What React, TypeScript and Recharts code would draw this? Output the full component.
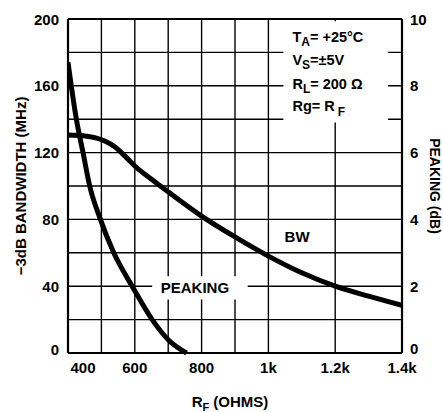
import { LineChart, Line, XAxis, YAxis, CartesianGrid, ReferenceArea, ReferenceDot, ReferenceLine } from "recharts";

// R_F axis (ohms)
const rfTicks = [400, 600, 800, 1000, 1200, 1400];
const rfGrid = [400, 500, 600, 700, 800, 900, 1000, 1100, 1200, 1300, 1400];
// left axis: -3dB bandwidth (MHz)
const bwTicks = [0, 40, 80, 120, 160, 200];
const bwGrid = [0, 20, 40, 60, 80, 100, 120, 140, 160, 180, 200];
// right axis: peaking (dB)
const peakTicks = [0, 2, 4, 6, 8, 10];

// BW curve
const bwRf = [400, 450, 480, 510, 540, 575, 600, 650, 700, 800, 900, 1000, 1100, 1200, 1300, 1400];
const bwMhz = [130.5, 130, 129, 127, 123.5, 117, 112, 104, 96.5, 82, 69.5, 58, 48, 40, 34, 28.5];

// PEAKING curve
const peakRf = [400, 425, 445, 465, 497, 537, 592, 652, 700, 755];
const peakDb = [8.7, 7.0, 6.0, 5.0, 4.0, 3.0, 2.0, 1.0, 0.4, 0];

const bwData = bwRf.map((rf, i) => ({ rf, v: bwMhz[i] }));
const peakData = peakRf.map((rf, i) => ({ rf, v: peakDb[i] }));

const font = {
  fontFamily: "'Liberation Sans', Arial, sans-serif",
  fontWeight: 700,
  fontSize: 15,
  fill: "#000",
};

const fmtRf = (v: number) => (v >= 1000 ? `${v / 1000}k` : `${v}`);

const RfTick = ({ x, y, payload }: any) => {
  const shift = payload.value === rfTicks[0] ? 15 : 0;
  return (
    <text x={x + shift} y={y + 14} textAnchor="middle" dominantBaseline="central" style={font}>
      {fmtRf(payload.value)}
    </text>
  );
};

const LeftTick = ({ x, y, payload }: any) => (
  <text x={x - 9} y={y - (payload.value === 0 ? 4 : 0)} textAnchor="end" dominantBaseline="central" style={font}>
    {payload.value}
  </text>
);

const RightTick = ({ x, y, payload }: any) => (
  <text x={x + 8} y={y - (payload.value === 0 ? 5 : 0)} textAnchor="start" dominantBaseline="central" style={font}>
    {payload.value}
  </text>
);

const LeftTitle = ({ viewBox }: any) => {
  const cx = viewBox.x + 20;
  const cy = viewBox.y + viewBox.height / 2;
  return (
    <text x={cx} y={cy} transform={`rotate(-90 ${cx} ${cy})`} textAnchor="middle" dominantBaseline="central" style={font}>
      −3dB BANDWIDTH (MHz)
    </text>
  );
};

const RightTitle = ({ viewBox }: any) => {
  const cx = viewBox.x + 28;
  const cy = viewBox.y + viewBox.height / 2;
  return (
    <text x={cx} y={cy} transform={`rotate(90 ${cx} ${cy})`} textAnchor="middle" style={{ ...font, fontSize: 14 }}>
      PEAKING (dB)
    </text>
  );
};

const BottomTitle = ({ viewBox }: any) => {
  const cx = viewBox.x + viewBox.width / 2 - 5;
  return (
    <text x={cx} y={viewBox.y + 54} textAnchor="middle" style={font}>
      R<tspan dy={4} fontSize={11}>F</tspan>
      <tspan dy={-4}> (OHMS)</tspan>
    </text>
  );
};

const Conditions = ({ viewBox }: any) => {
  const x0 = viewBox.x + 9;
  const y0 = viewBox.y;
  const s = { ...font, fontSize: 14.5 };
  return (
    <g>
      <text x={x0} y={y0 + 21} style={s}>
        T<tspan dy={4} fontSize={12}>A</tspan>
        <tspan dy={-4}>= +25°C</tspan>
      </text>
      <text x={x0} y={y0 + 44} style={s}>
        V<tspan dy={4} fontSize={12}>S</tspan>
        <tspan dy={-4}>=±5V</tspan>
      </text>
      <text x={x0} y={y0 + 68} style={s}>
        R<tspan dy={4} fontSize={12}>L</tspan>
        <tspan dy={-4}>= 200 Ω</tspan>
      </text>
      <text x={x0} y={y0 + 90} style={s}>
        Rg= R<tspan dx={3} dy={5} fontSize={12}>F</tspan>
      </text>
    </g>
  );
};

const CenterText = ({ viewBox, text, dx = 0 }: any) => (
  <text
    x={viewBox.x + viewBox.width / 2 + dx}
    y={viewBox.y + viewBox.height / 2}
    textAnchor="middle"
    dominantBaseline="central"
    style={font}
  >
    {text}
  </text>
);

export default function App() {
  return (
    <div style={{ position: "absolute", left: 0, top: 0, background: "#fff" }}>
      <LineChart width={443} height={412} margin={{ top: 19, right: 0, bottom: 0, left: 0 }}>
        <CartesianGrid
          yAxisId="bw"
          stroke="#000"
          strokeWidth={1.4}
          verticalValues={rfGrid}
          horizontalValues={bwGrid}
        />
        <XAxis
          dataKey="rf"
          type="number"
          domain={[400, 1400]}
          ticks={rfTicks}
          allowDataOverflow
          height={59}
          tickSize={0}
          tickMargin={0}
          tickLine={false}
          tick={<RfTick />}
          axisLine={{ stroke: "#000", strokeWidth: 2.2 }}
          label={<BottomTitle />}
        />
        <YAxis
          yAxisId="bw"
          orientation="left"
          domain={[0, 200]}
          ticks={bwTicks}
          width={68}
          tickSize={0}
          tickMargin={0}
          tickLine={false}
          tick={<LeftTick />}
          axisLine={{ stroke: "#000", strokeWidth: 2.2 }}
          label={<LeftTitle />}
        />
        <YAxis
          yAxisId="pk"
          orientation="right"
          domain={[0, 10]}
          ticks={peakTicks}
          width={41}
          tickSize={0}
          tickMargin={0}
          tickLine={false}
          tick={<RightTick />}
          axisLine={{ stroke: "#000", strokeWidth: 2.2 }}
          label={<RightTitle />}
        />
        <ReferenceLine yAxisId="bw" y={200} stroke="#000" strokeWidth={2.2} />
        <ReferenceArea
          yAxisId="bw"
          x1={1045}
          x2={1358}
          y1={138}
          y2={198.6}
          fill="#fff"
          fillOpacity={1}
          stroke="none"
          label={<Conditions />}
        />
        <ReferenceArea
          yAxisId="bw"
          x1={652}
          x2={938}
          y1={32}
          y2={46}
          fill="#fff"
          fillOpacity={1}
          stroke="none"
          label={<CenterText text="PEAKING" dx={-5} />}
        />
        <ReferenceDot yAxisId="bw" x={1086} y={69.5} r={0} stroke="none" label={<CenterText text="BW" />} />
        <Line
          yAxisId="bw"
          data={bwData}
          dataKey="v"
          type="monotone"
          stroke="#000"
          strokeWidth={5}
          dot={false}
          isAnimationActive={false}
        />
        <Line
          yAxisId="pk"
          data={peakData}
          dataKey="v"
          type="monotone"
          stroke="#000"
          strokeWidth={5}
          dot={false}
          isAnimationActive={false}
        />
      </LineChart>
    </div>
  );
}
